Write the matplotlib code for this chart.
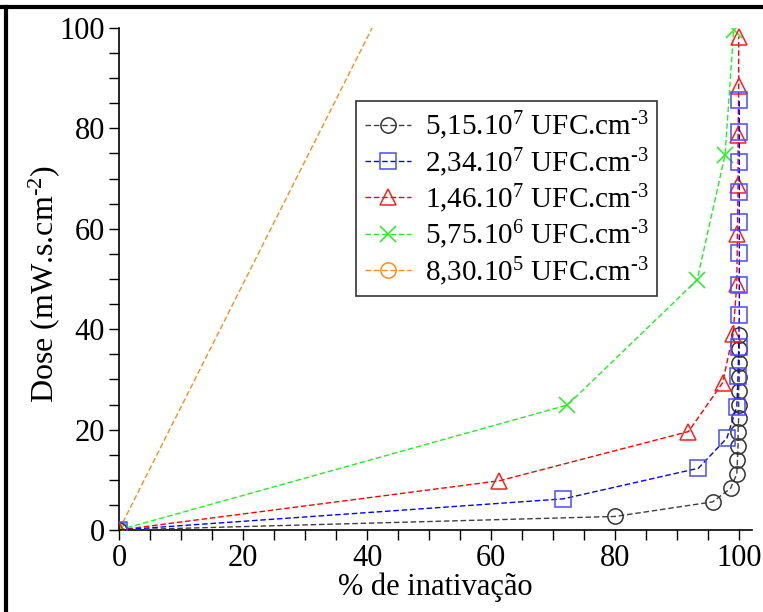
import numpy as np
import matplotlib
matplotlib.use('Agg')
import matplotlib.pyplot as plt
from matplotlib.lines import Line2D
from matplotlib.ticker import MultipleLocator

plt.rcParams['font.family'] = ['Liberation Serif', 'DejaVu Serif']
plt.rcParams['mathtext.fontset'] = 'custom'
plt.rcParams['mathtext.rm'] = 'Liberation Serif'
plt.rcParams['mathtext.it'] = 'Liberation Serif:italic'

# % inactivation vs. UV dose for each initial concentration
labels = [r'5,15.10$^{7}$ UFC.cm$^{\text{-3}}$',
          r'2,34.10$^{7}$ UFC.cm$^{\text{-3}}$',
          r'1,46.10$^{7}$ UFC.cm$^{\text{-3}}$',
          r'5,75.10$^{6}$ UFC.cm$^{\text{-3}}$',
          r'8,30.10$^{5}$ UFC.cm$^{\text{-3}}$']

x_515e7 = [0, 80.0, 95.7, 98.6, 99.6, 99.7, 99.8, 99.8, 99.9, 99.9, 99.9, 100, 100, 100, 100]
y_515e7 = [0, 2.7, 5.6, 8.3, 11.2, 14.0, 16.8, 19.6, 22.3, 25.0, 27.7, 30.5, 33.2, 36.1, 38.9]

x_234e7 = [0, 71.6, 93.4, 98.0, 99.6, 99.8, 99.9, 100, 100, 100, 100, 100, 100, 100, 100]
y_234e7 = [0, 6.2, 12.3, 18.3, 24.6, 30.7, 36.5, 42.8, 48.8, 55.1, 61.4, 67.4, 73.4, 79.3, 85.7]

x_146e7 = [0, 61.3, 91.8, 97.3, 99.0, 99.6, 99.7, 99.8, 99.8, 99.9, 99.9]
y_146e7 = [0, 9.8, 19.6, 29.3, 39.0, 49.0, 59.0, 68.8, 78.7, 88.5, 98.3]

x_575e6 = [0, 72.3, 93.2, 97.7, 99.1]
y_575e6 = [0, 24.9, 49.8, 74.7, 99.6]

x_830e5 = [0, 40.8]
y_830e5 = [0, 100]

fig = plt.figure(figsize=(7.63, 6.12), dpi=100)
ax = fig.add_axes([119 / 763, 1 - 530 / 612, (751.7 - 119) / 763, (530 - 28) / 612])

dash = (0, (4, 2))
ms = 11
mew = 1.1
h1, = ax.plot(x_515e7, y_515e7, color='#404040', ls=dash, lw=1, marker='o', ms=ms,
              mfc='none', mec='#333333', mew=mew, zorder=3)
h2, = ax.plot(x_234e7, y_234e7, color='#0000ff', ls=dash, lw=1, marker='s', ms=ms,
              mfc='none', mec='#4a4aff', mew=mew, zorder=5)
h3, = ax.plot(x_146e7, y_146e7, color='#ff0000', ls=dash, lw=1, marker='^', ms=ms,
              mfc='none', mec='#ff2020', mew=mew, zorder=4)
h4, = ax.plot(x_575e6, y_575e6, color='#22ee22', ls=dash, lw=1, marker='x', ms=ms,
              mec='#22ee22', mew=mew, zorder=2)
h5, = ax.plot(x_830e5, y_830e5, color='#ff8c1a', ls=dash, lw=1, marker='o', ms=ms,
              mfc='none', mec='#ff8c1a', mew=mew, markevery=[0], zorder=1)

ax.set_xlim(0, 102)
ax.set_ylim(0, 100)
ax.xaxis.set_major_locator(MultipleLocator(20))
ax.xaxis.set_minor_locator(MultipleLocator(5))
ax.yaxis.set_major_locator(MultipleLocator(20))
ax.yaxis.set_minor_locator(MultipleLocator(5))
ax.set_xticks([0, 20, 40, 60, 80, 100])
ax.tick_params(which='both', direction='out', length=7, width=1, labelsize=22, pad=3)

for side in ['top', 'right']:
    ax.spines[side].set_visible(False)
for side in ['left', 'bottom']:
    ax.spines[side].set_linewidth(1.2)

ax.set_xlabel('% de inativação', fontsize=22, labelpad=0)
ax.set_ylabel(r'Dose (mW.s.cm$^{\text{-2}}$)', fontsize=23)
ax.yaxis.set_label_coords(-0.09, 0.49)

leg = ax.legend([h1, h2, h3, h4, h5], labels, loc='upper left',
                bbox_to_anchor=(356 / 763, 1 - 101 / 612), bbox_transform=fig.transFigure,
                fontsize=21, frameon=True, fancybox=False, framealpha=1,
                edgecolor='#333333', handlelength=1.6, handletextpad=0.45,
                labelspacing=0.12, borderpad=0.3, borderaxespad=0)
leg.get_frame().set_linewidth(1.2)

# black frame lines along the top and left edges
fig.add_artist(Line2D([0, 1], [1 - 7 / 612, 1 - 7 / 612], transform=fig.transFigure,
                      color='black', lw=3))
fig.add_artist(Line2D([6 / 763, 6 / 763], [0, 1 - 7 / 612], transform=fig.transFigure,
                      color='black', lw=3))

fig.savefig('out.png', dpi=100)
